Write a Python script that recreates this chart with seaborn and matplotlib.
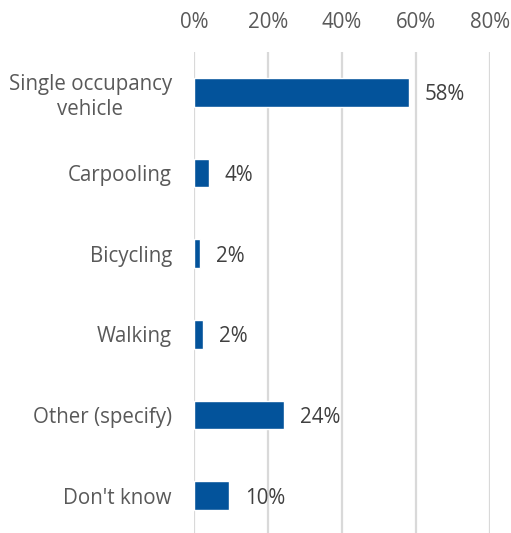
import matplotlib
matplotlib.use("Agg")
import matplotlib.pyplot as plt
import seaborn as sns
import pandas as pd

categories = ["Single occupancy\nvehicle", "Carpooling", "Bicycling", "Walking",
              "Other (specify)", "Don't know"]
shares = [58.0, 3.9, 1.7, 2.3, 24.4, 9.5]
x_ticks = [0, 20, 40, 60, 80]
x_tick_labels = ["0%", "20%", "40%", "60%", "80%"]

df = pd.DataFrame({"mode": categories, "share": shares})

sns.set_theme(style="white")
plt.rcParams["font.family"] = ["Open Sans", "DejaVu Sans"]

fig = plt.figure(figsize=(5.11, 5.33), dpi=100)
ax = fig.add_axes([0.380, -0.0056, 0.5787, 0.908])

sns.barplot(data=df, x="share", y="mode", orient="h", color="#03539B",
            saturation=1, width=0.355, ax=ax)

fs = 14.8
ax.set_xlim(0, 80)
ax.set_xticks(x_ticks)
ax.set_xticklabels(x_tick_labels)
ax.xaxis.tick_top()
ax.tick_params(axis="x", length=0, pad=14, labelsize=fs, labelcolor="#595959")
ax.tick_params(axis="y", length=0, pad=16, labelsize=fs, labelcolor="#595959")
for lbl in ax.get_yticklabels():
    lbl.set_multialignment("center")
    lbl.set_linespacing(1.25)
ax.set_xlabel("")
ax.set_ylabel("")
ax.grid(axis="x", color="#d9d9d9", linewidth=1.6)
ax.set_axisbelow(True)
for s in ax.spines.values():
    s.set_visible(False)

for i, v in enumerate(shares):
    ax.text(v + 4.3, i + 0.03, f"{v:.0f}%", va="center", ha="left",
            fontsize=fs, color="#404040")

fig.savefig("out.png", dpi=100)
